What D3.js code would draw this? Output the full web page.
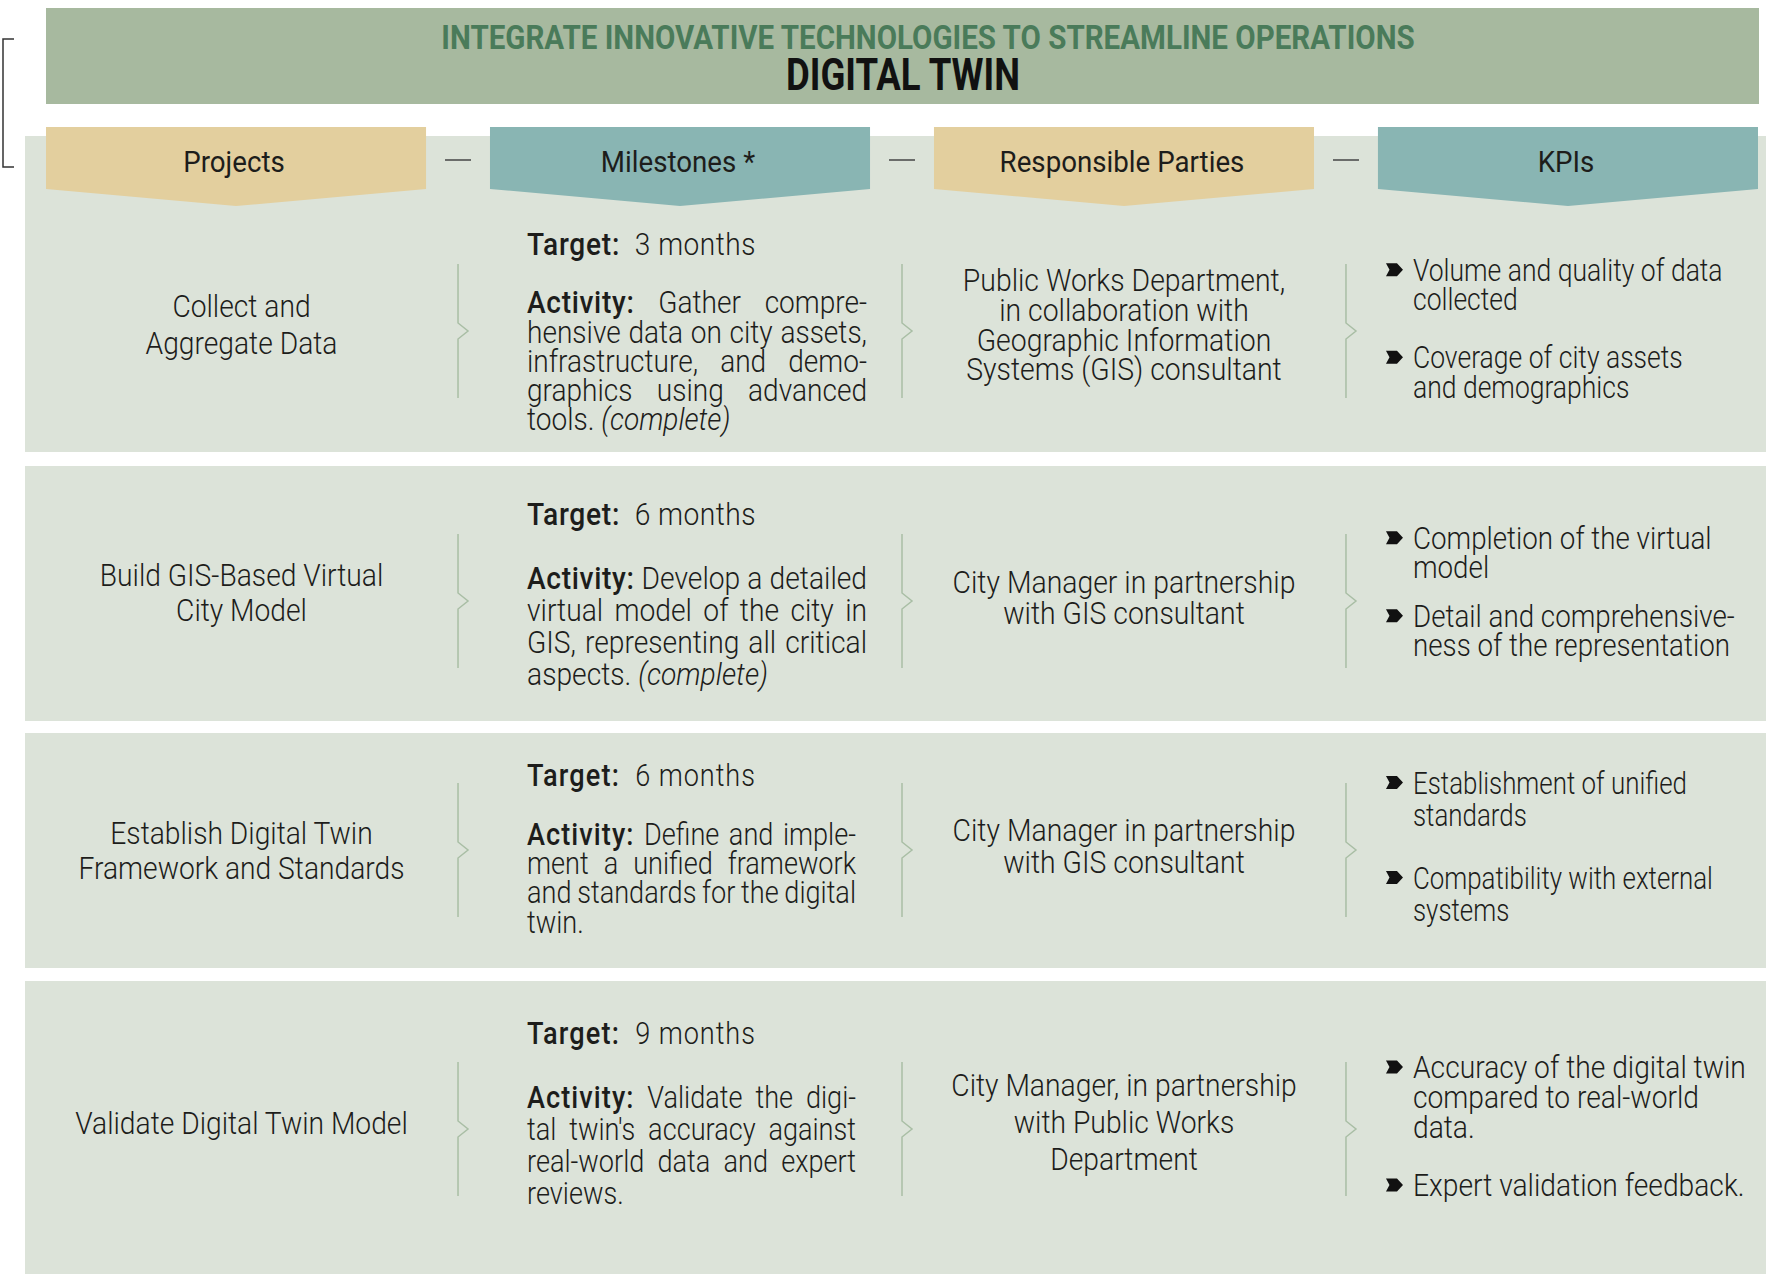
<!DOCTYPE html>
<html><head><meta charset="utf-8">
<script src="https://cdn.jsdelivr.net/npm/d3@7"></script>
<style>html,body{margin:0;padding:0;background:#fff;} svg{display:block;}</style>
</head><body><svg id="chart" width="1766" height="1274"></svg>
<script>
// ---------------- DATA ----------------
const subtitle = "INTEGRATE INNOVATIVE TECHNOLOGIES TO STREAMLINE OPERATIONS";
const title = "DIGITAL TWIN";
const columnHeaders = ["Projects", "Milestones *", "Responsible Parties", "KPIs"];
const projectLines = [
  ["Collect and", "Aggregate Data"],
  ["Build GIS-Based Virtual", "City Model"],
  ["Establish Digital Twin", "Framework and Standards"],
  ["Validate Digital Twin Model"]
];
const targetLabel = "Target:";
const targets = ["3 months", "6 months", "6 months", "9 months"];
const activityLabel = "Activity:";
const activityLines = [
  ["Gather compre-", "hensive data on city assets,", "infrastructure, and demo-", "graphics using advanced", "tools."],
  ["Develop a detailed", "virtual model of the city in", "GIS, representing all critical", "aspects."],
  ["Define and imple-", "ment a unified framework", "and standards for the digital", "twin."],
  ["Validate the digi-", "tal twin's accuracy against", "real-world data and expert", "reviews."]
];
const activityStatus = ["(complete)", "(complete)", "", ""];
const partyLines = [
  ["Public Works Department,", "in collaboration with", "Geographic Information", "Systems (GIS) consultant"],
  ["City Manager in partnership", "with GIS consultant"],
  ["City Manager in partnership", "with GIS consultant"],
  ["City Manager, in partnership", "with Public Works", "Department"]
];
const kpiItems = [
  [["Volume and quality of data", "collected"], ["Coverage of city assets", "and demographics"]],
  [["Completion of the virtual", "model"], ["Detail and comprehensive-", "ness of the representation"]],
  [["Establishment of unified", "standards"], ["Compatibility with external", "systems"]],
  [["Accuracy of the digital twin", "compared to real-world", "data."], ["Expert validation feedback."]]
];

// ---------------- LAYOUT / STYLE ----------------
const W = 1766, H = 1274;
const FONT = "Roboto, 'Noto Sans', sans-serif";
const INK = "#1d1d1b";
const C = {
  band: "#a7b99f", sub: "#4a7b5a", row: "#dce3d9", tan: "#e3cf9e", teal: "#89b5b3",
  sep: "#a9bea5"
};
const rowLayout = [
  {top: 136, bottom: 452, center: 331, prOff: 4.7, prLH: 37, prCF: 0.91,
   msOff: 11.5, msLH: 29.3, msW: 340, msCF: 0.905,
   pOff: 4.7, pLH: 29.6, pCF: 0.915,
   kOff: 8.1, kLH: 29.3, kGap: 29, kCF: 0.855},
  {top: 466, bottom: 721, center: 601, prOff: 2.5, prLH: 35, prCF: 0.91,
   msOff: 3.6, msLH: 32, msW: 340, msCF: 0.91,
   pOff: 7, pLH: 31, pCF: 0.915,
   kOff: 1.4, kLH: 29.5, kGap: 19, kCF: 0.895},
  {top: 733, bottom: 968, center: 850, prOff: 11.5, prLH: 35, prCF: 0.91,
   msOff: 9.3, msLH: 29.3, msW: 329, msCF: 0.875,
   pOff: 7, pLH: 32, pCF: 0.915,
   kOff: 7, kLH: 32, kGap: 31, kCF: 0.835},
  {top: 981, bottom: 1274, center: 1129, prOff: 4.7, prLH: 35, prCF: 0.91,
   msOff: -5.4, msLH: 32, msW: 329, msCF: 0.875,
   pOff: 3.6, pLH: 37, pCF: 0.912,
   kOff: 8.1, kLH: 30, kGap: 28, kCF: 0.91}
];
const BODY_SIZE = 31;
const LABEL_CF = 0.96, TARGET_CF = 0.94;

const svg = d3.select("#chart");
const probe = svg.append("text").attr("font-family", FONT).attr("x", -2000).attr("y", -2000);
function textWidth(str, size, weight, style) {
  probe.selectAll("tspan").remove();
  probe.attr("font-size", size).attr("font-weight", weight).attr("font-style", style || "normal").text(str);
  return probe.node().getComputedTextLength();
}
function measureSegs(segs, size, weight) {
  probe.text("");
  probe.attr("font-size", size).attr("font-weight", weight).attr("font-style", "normal");
  segs.forEach(s => {
    const ts = probe.append("tspan").attr("font-weight", s.w || weight).attr("font-style", s.s || "normal").text(s.t);
    if (s.ls) ts.attr("letter-spacing", s.ls);
  });
  const w = probe.node().getComputedTextLength();
  probe.selectAll("tspan").remove();
  return w;
}
// One <text> per block; each line is a tspan condensed by textLength (cf);
// justified lines widen their word spacing so glyphs keep the same condensing.
function drawBlock(parent, lines, o) {
  const cf = o.cf, size = o.size;
  const t = parent.append("text")
    .attr("font-family", FONT).attr("font-size", size).attr("font-weight", o.weight)
    .attr("fill", o.fill || INK);
  lines.forEach(line => {
    const segs = line.segs.map(s => s.cfw
      ? {...s, ls: textWidth(s.t, size, s.w || o.weight, s.s) * (s.cfw / cf - 1) / s.t.length}
      : s);
    const Wn = measureSegs(segs, size, o.weight);
    const full = segs.map(s => s.t).join("");
    const nsp = (full.match(/ /g) || []).length;
    let target = Wn * cf, ws = 0;
    if (line.justify && nsp > 0) { target = o.width; ws = (o.width / cf - Wn) / nsp; }
    const x0 = o.anchor === "middle" ? o.x - target / 2 : o.x;
    const lt = t.append("tspan").attr("x", x0).attr("y", line.y)
      .attr("textLength", target).attr("lengthAdjust", "spacingAndGlyphs");
    if (ws) lt.attr("word-spacing", ws);
    segs.forEach(s => {
      const c = lt.append("tspan").attr("font-weight", s.w || o.weight)
        .attr("font-style", s.s || "normal").text(s.t);
      if (s.ls) c.attr("letter-spacing", s.ls);
    });
  });
  return t;
}
const seg = (t, w, extra) => ({t, w, ...(extra || {})});

// ---------------- SCALES ----------------
const colScale = d3.scaleBand().domain(columnHeaders).range([46, 1758]).paddingInner(0.144);
const gapW = colScale.step() - colScale.bandwidth();
const seps = columnHeaders.slice(1).map(h => colScale(h) - gapW / 2);

// ---------------- TITLE BAND ----------------
svg.append("rect").attr("x", 46).attr("y", 8).attr("width", 1713).attr("height", 96).attr("fill", C.band);
drawBlock(svg, [{segs: [seg(subtitle, 700)], y: 48.5}],
  {x: 928, size: 33, weight: 700, cf: 0.895, anchor: "middle", fill: C.sub});
drawBlock(svg, [{segs: [seg(title, 700)], y: 90}],
  {x: 903, size: 44, weight: 700, cf: 0.83, anchor: "middle", fill: "#111"});

// left bracket
svg.append("path").attr("d", "M14,39 L3,39 L3,167 L14,167").attr("fill", "none")
  .attr("stroke", "#333").attr("stroke-width", 1.5);

// ---------------- ROW BACKGROUNDS ----------------
svg.selectAll("rect.row").data(rowLayout).join("rect").attr("class", "row")
  .attr("x", 25).attr("y", d => d.top).attr("width", W - 25).attr("height", d => d.bottom - d.top)
  .attr("fill", C.row);

// ---------------- HEADER TABS ----------------
const tabTop = 127, tabSide = 189, tabTip = 206;
const tabs = svg.selectAll("g.tab").data(columnHeaders).join("g").attr("class", "tab");
tabs.append("path")
  .attr("d", d => {
    const x0 = colScale(d), x1 = x0 + colScale.bandwidth(), xm = (x0 + x1) / 2;
    return `M${x0},${tabTop} L${x1},${tabTop} L${x1},${tabSide} L${xm},${tabTip} L${x0},${tabSide} Z`;
  })
  .attr("fill", (d, i) => i % 2 === 0 ? C.tan : C.teal);
tabs.each(function(d) {
  drawBlock(d3.select(this), [{segs: [seg(d, 400)], y: 172}],
    {x: colScale(d) + colScale.bandwidth() / 2 - 2, size: 29, weight: 400, cf: 0.955, anchor: "middle"});
});
svg.selectAll("line.dash").data(seps).join("line").attr("class", "dash")
  .attr("x1", d => d - 13).attr("x2", d => d + 13).attr("y1", 160).attr("y2", 160)
  .attr("stroke", "#444").attr("stroke-width", 1.5);

// ---------------- ROWS ----------------
const projX = (25 + seps[0]) / 2;
const msX = seps[0] + 69;
const partyX = (seps[1] + seps[2]) / 2;
const bulletX = seps[2] + 40;
const kpiX = seps[2] + 67;

rowLayout.forEach((L, r) => {
  const g = svg.append("g");
  seps.forEach(sx => {
    const c = L.center;
    g.append("path")
      .attr("d", `M${sx},${c - 67} L${sx},${c - 8} L${sx + 10},${c} L${sx},${c + 8} L${sx},${c + 67}`)
      .attr("fill", "none").attr("stroke", C.sep).attr("stroke-width", 1.5);
  });

  // projects
  const pl = projectLines[r];
  const py0 = L.center + L.prOff - (pl.length - 1) * L.prLH / 2;
  drawBlock(g, pl.map((line, i) => ({segs: [seg(line, 300)], y: py0 + i * L.prLH})),
    {x: projX, size: BODY_SIZE, weight: 300, cf: L.prCF, anchor: "middle"});

  // milestones
  const al = activityLines[r];
  const n = al.length;
  const tb = L.center + L.msOff - (n + 1) * L.msLH / 2;
  const mLines = [{segs: [seg(targetLabel, 500, {cfw: LABEL_CF}),
                          seg("\u00a0 " + targets[r], 300, {cfw: TARGET_CF})], y: tb}];
  al.forEach((line, i) => {
    const last = i === n - 1;
    const segs = [];
    if (i === 0) segs.push(seg(activityLabel, 500, {cfw: LABEL_CF}));
    segs.push(seg((i === 0 ? " " : "") + line, 300));
    if (last && activityStatus[r]) segs.push(seg(" " + activityStatus[r], 300, {s: "italic"}));
    mLines.push({segs, y: tb + (i + 2) * L.msLH, justify: !last});
  });
  drawBlock(g, mLines, {x: msX, size: BODY_SIZE, weight: 300, cf: L.msCF, anchor: "start", width: L.msW});

  // responsible parties
  const prl = partyLines[r];
  const ry0 = L.center + L.pOff - (prl.length - 1) * L.pLH / 2;
  drawBlock(g, prl.map((line, i) => ({segs: [seg(line, 300)], y: ry0 + i * L.pLH})),
    {x: partyX, size: BODY_SIZE, weight: 300, cf: L.pCF, anchor: "middle"});

  // KPIs
  const items = kpiItems[r];
  const nLines = d3.sum(items, d => d.length);
  const totalH = (nLines - 1) * L.kLH + (items.length - 1) * L.kGap;
  let ky = L.center + L.kOff - totalH / 2;
  const kLines = [];
  items.forEach(item => {
    const by = ky - 11;
    g.append("path")
      .attr("d", `M${bulletX},${by - 6.5} L${bulletX + 11},${by - 6.5} L${bulletX + 17},${by} L${bulletX + 11},${by + 6.5} L${bulletX},${by + 6.5} L${bulletX + 3.5},${by} Z`)
      .attr("fill", "#111");
    item.forEach(line => {
      kLines.push({segs: [seg(line, 300)], y: ky});
      ky += L.kLH;
    });
    ky += L.kGap;
  });
  drawBlock(g, kLines, {x: kpiX, size: BODY_SIZE, weight: 300, cf: L.kCF, anchor: "start"});
});
probe.remove();
</script>
</body></html>
